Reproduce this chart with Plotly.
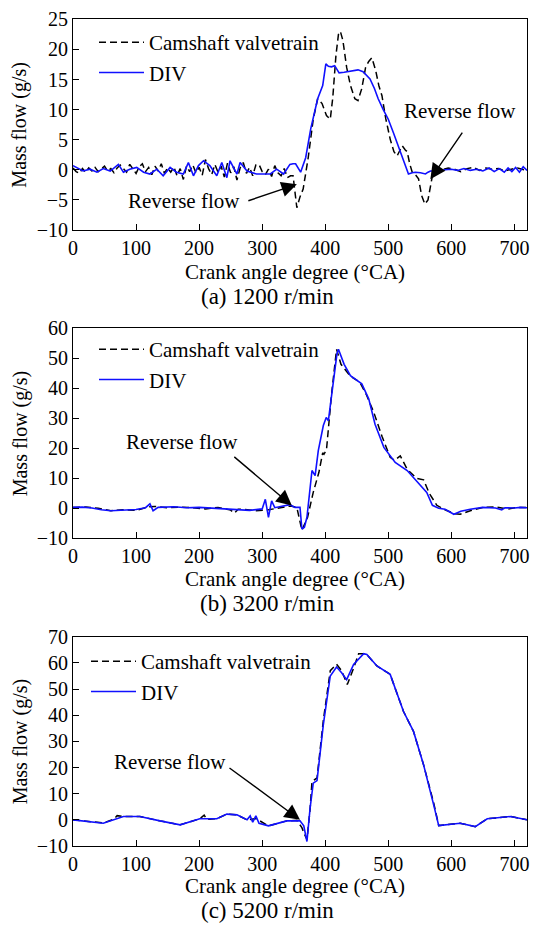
import plotly.graph_objects as go

# ---------------- data ----------------
# Panel (a) 1200 r/min
cam_a_x = list(range(0, 345, 5)) + [345, 349, 355, 360, 365, 373, 381, 388, 395, 402, 408, 412, 417, 421, 424, 428, 434, 440, 447, 452, 458, 464, 469, 474, 480, 485, 490, 496, 503, 509, 514, 518, 522, 527, 530, 534, 538, 543, 548, 553, 558, 563, 567, 571, 576, 585, 595, 605, 615, 625, 635, 645, 655, 665, 675, 685, 695, 705, 715, 720]
cam_a_y = [0.3, -0.3, -0.6, 0.2, -0.4, 0.3, -0.2, 0.4, -0.3, 0.1, 0.6, -0.2, 0.2, -0.5, 0.3, 0.8, 0.2, -0.4, 0.9, 0.1,
           -0.6, 0.5, 1.0, -0.3, 0.4, -0.8, 0.6, -0.2, 1.0, -0.6, 0.3, -0.4, 0.5, -1.0, 0.2, -1.6, 0.6, -0.3, 0.8, -0.5,
           0.4, -0.9, 1.7, 0.2, -0.8, 0.9, -0.4, 0.6, -1.2, 1.1, -0.5, 0.5, -1.7, 0.3, 1.2, -0.6, 0.4, -1.0, 0.8, 0.9,
           -0.3, -0.8, 0.1, -1.1, 0.7, -0.5, -1.0, 0.2, -1.3,
           -1.0, -1.0, -6.3, -4.5, -3.2, 2.0, 8.4, 11.8, 11.0, 9.0, 8.4, 12.0, 19.0, 22.5, 23.0, 21.5, 17.0, 14.0, 11.8, 11.5,
           13.5, 17.0, 18.0, 18.6, 16.5, 14.0, 12.3, 8.5, 5.1, 3.0, 2.3, 3.3, 4.0, 3.3, 3.0, 1.0, -0.4, -0.8, -1.5, -4.3,
           -5.7, -5.0, -2.5, -0.4, 0.2, 0.0, 0.3, 0.1, -0.3, 0.2, 0.4, -0.1, 0.3, 0.1, 0.2, -0.2, 0.1, 0.3, 0.0, 0.1]
div_a_x = [0, 6, 16, 27, 38, 48, 59, 72, 80, 90, 101, 112, 122, 133, 143, 154, 164, 175, 183, 191, 199, 207, 217, 228, 236, 244, 249, 260, 265, 276, 291, 313, 323, 334, 344, 349, 353, 361, 369, 377, 388, 396, 401, 405, 410, 415, 422, 430, 438, 445, 452, 460, 465, 471, 478, 484, 492, 500, 508, 516, 524, 532, 538, 543, 551, 559, 563, 567, 575, 580, 590, 600, 610, 620, 630, 640, 650, 660, 668, 676, 684, 690, 696, 702, 708, 714, 720]
div_a_y = [0.7, 0.4, -0.2, 0.1, -0.4, 0.2, -0.2, 0.9, -0.4, 0.1, 0.4, -0.4, -0.7, 0.1, -1.0, 0.4, -0.4, -0.7, 1.2, -1.0,
           0.7, 1.5, 0.7, -1.0, 1.2, -1.3, 1.5, -0.7, 1.2, -0.2, -0.7, -0.7, 0.1, -0.7, 0.9, 1.0, 1.0, -0.4, 2.0, 6.8,
           11.8, 14.0, 17.6, 17.2, 17.1, 17.3, 16.1, 16.2, 16.3, 16.5, 16.6, 16.3, 15.8, 15.1, 13.5, 11.8, 10.0, 8.4, 6.2, 4.0,
           1.8, -0.7, -0.5, -0.4, -0.5, -0.7, -0.4, -0.2, -0.2, -0.2, 0.0, 0.1, -0.1, 0.2, -0.1, 0.1, -0.2, 0.3, -0.3, 0.2,
           -0.4, 0.3, -0.3, 0.4, -0.4, 0.5, -0.1]

# Panel (b) 3200 r/min
cam_b_x = [0, 20, 40, 60, 80, 100, 120, 130, 150, 170, 190, 210, 230, 250, 256, 262, 270, 290, 310, 330, 345, 355, 363, 372, 381, 390, 396, 398, 402, 410, 418, 425, 440, 455, 465, 477, 490, 503, 510, 519, 530, 545, 556, 565, 577, 590, 605, 614, 630, 650, 670, 690, 700, 720]
cam_b_y = [0.3, 0.4, 0.0, -0.8, -0.5, -0.7, 0.5, 0.6, 0.2, 0.4, 0.2, -0.2, 0.3, -0.6, -1.6, -0.3, -0.3, -0.8, -0.5, 0.2,
           0.8, 0.3, -7.3, -3.0, 5.3, 12.0, 18.5, 18.0, 19.5, 38.0, 53.0, 48.0, 44.0, 42.0, 38.0, 32.0, 24.0, 17.0, 16.0, 17.5,
           13.0, 10.0, 9.5, 5.0, 1.0, -0.5, -1.8, -2.0, -0.8, 0.3, 0.5, -0.3, 0.2, 0.3]
div_b_x = [0, 15, 30, 45, 60, 80, 100, 115, 122, 127, 135, 160, 180, 200, 220, 240, 260, 280, 300, 305, 310, 315, 320, 332, 344, 352, 360, 363, 367, 371, 379, 384, 389, 397, 401.6, 405, 410.6, 418.6, 421, 430, 440, 458, 469, 479, 493, 511, 530, 550, 561, 570, 580, 590, 604, 615, 630, 650, 660, 670, 680, 685, 700, 710, 720]
div_b_y = [0.3, 0.4, 0.1, -0.5, -0.8, -0.7, -0.4, 0.2, 1.5, -0.8, 0.3, 0.5, 0.2, 0.3, 0.0, -0.3, -0.6, -0.7, -0.2, 3.0,
           -3.0, 2.5, 0.2, 0.8, 1.2, 0.3, 0.3, -6.9, -6.3, -3.0, 12.6, 10.9, 19.2, 27.6, 30.3, 29.2, 39.2, 51.5, 53.0, 48.0,
           44.2, 41.5, 36.5, 28.0, 20.3, 15.3, 12.6, 8.0, 5.3, 1.0, 0.0, -0.3, -2.0, -1.0, -0.3, 0.3, 0.3, 0.1, -0.5, 0.2,
           0.1, 0.3, 0.2]

# Panel (c) 5200 r/min
cam_c_x = [0, 20, 48, 65, 70, 80, 106, 138, 170, 201, 208, 212, 228, 244, 260, 276, 290, 310, 339, 355, 363, 368, 371, 376, 379, 387, 397, 408, 418, 426, 435, 445, 453, 461, 466, 482, 503, 524, 540, 556, 572, 580, 614, 638, 657, 694, 720]
cam_c_y = [0.0, -0.5, -1.2, 0.3, 1.6, 1.3, 1.3, -0.4, -1.9, 0.4, 1.8, 0.2, 0.4, 2.2, 1.9, 0.0, 0.5, -2.3, -0.4, -0.2,
           -3.0, -6.0, -7.5, 4.0, 14.7, 16.0, 38.0, 57.0, 59.5, 57.0, 51.7, 58.0, 63.5, 63.5, 63.2, 58.8, 55.6, 41.5, 33.8, 21.0,
           6.5, -2.2, -1.3, -2.6, 0.4, 1.3, 0.0]
div_c_x = [0, 48, 80, 106, 138, 170, 201, 228, 244, 260, 276, 281, 285, 290, 295, 310, 339, 360, 366, 371, 376, 381, 387, 397, 408, 418, 426, 434, 445, 461, 466, 482, 503, 524, 540, 556, 572, 580, 614, 638, 657, 694, 720]
div_c_y = [0.0, -1.3, 1.3, 1.3, -0.4, -1.9, 0.4, 0.4, 2.2, 1.9, 0.0, 1.5, -0.9, 1.5, -1.3, -2.3, -0.4, -0.4, -2.3, -8.3,
           4.5, 14.0, 15.0, 36.4, 55.0, 58.4, 56.2, 53.6, 59.4, 63.5, 63.2, 58.8, 55.6, 41.5, 33.8, 21.0, 5.7, -2.2, -1.3, -2.6,
           0.4, 1.3, 0.0]

x_ticks = [0, 100, 200, 300, 400, 500, 600, 700]
y_ranges = [[-10, 25], [-10, 60], [-10, 70]]
y_dticks = [5, 10, 10]
captions = ["(a) 1200 r/min", "(b) 3200 r/min", "(c) 5200 r/min"]
x_title = "Crank angle degree (°CA)"
y_title = "Mass flow (g/s)"
leg_names = ["Camshaft valvetrain", "DIV"]

# ---------------- figure ----------------
W, H = 533, 929
FONT = "'Liberation Serif', 'Times New Roman', serif"
fig = go.Figure()

panels = [(cam_a_x, cam_a_y, div_a_x, div_a_y),
          (cam_b_x, cam_b_y, div_b_x, div_b_y),
          (cam_c_x, cam_c_y, div_c_x, div_c_y)]
frames = [(19.3, 230.0), (328.3, 538.3), (636.7, 846.0)]
x_left, x_right = 73.0, 527.0
leg_pos = [(94, 22), (94, 329), (86, 641)]

for i, (cx, cy, dx, dy) in enumerate(panels):
    sfx = "" if i == 0 else str(i + 1)
    lg = "legend" if i == 0 else "legend" + str(i + 1)
    fig.add_trace(go.Scatter(x=cx, y=cy, mode="lines", name=leg_names[0],
                             line=dict(color="black", width=1.5, dash="7px,4px"),
                             xaxis="x" + sfx, yaxis="y" + sfx, legend=lg))
    fig.add_trace(go.Scatter(x=dx, y=dy, mode="lines", name=leg_names[1],
                             line=dict(color="#1010ff", width=1.6),
                             xaxis="x" + sfx, yaxis="y" + sfx, legend=lg))

layout = dict(width=W, height=H, margin=dict(l=0, r=0, t=0, b=0, autoexpand=False),
              paper_bgcolor="white", plot_bgcolor="white",
              font=dict(family=FONT, size=20, color="black"),
              showlegend=True)

axis_common = dict(showline=True, linecolor="black", linewidth=1, mirror=True,
                   showgrid=False, zeroline=False, ticks="inside", ticklen=6,
                   tickcolor="black", tickwidth=1, automargin=False,
                   tickfont=dict(family=FONT, size=20))

for i in range(3):
    sfx = "" if i == 0 else str(i + 1)
    top, bot = frames[i]
    layout["xaxis" + sfx] = dict(axis_common, range=[0, 720], tickvals=x_ticks,
                                 domain=[x_left / W, x_right / W],
                                 anchor="y" + sfx)
    layout["yaxis" + sfx] = dict(axis_common, range=y_ranges[i], dtick=y_dticks[i],
                                 tick0=-10, domain=[1 - bot / H, 1 - top / H],
                                 anchor="x" + sfx)
    lx, ly = leg_pos[i]
    lg = "legend" if i == 0 else "legend" + str(i + 1)
    layout[lg] = dict(x=lx / W, y=1 - ly / H, xanchor="left", yanchor="top",
                      bgcolor="rgba(0,0,0,0)", borderwidth=0,
                      font=dict(family=FONT, size=21), itemwidth=45,
                      tracegroupgap=0)

annotations = []
x_title_y = [271.7, 578.5, 885.5]
cap_y = [296.5, 603.5, 910.5]
for i in range(3):
    top, bot = frames[i]
    annotations.append(dict(text=x_title, xref="paper", yref="paper", x=295 / W, y=1 - x_title_y[i] / H,
                            showarrow=False, xanchor="center", yanchor="middle", font=dict(size=21)))
    annotations.append(dict(text=captions[i], xref="paper", yref="paper", x=267 / W, y=1 - cap_y[i] / H,
                            showarrow=False, xanchor="center", yanchor="middle", font=dict(size=23)))
    annotations.append(dict(text=y_title, xref="paper", yref="paper", x=20 / W, y=1 - (top + bot) / 2 / H,
                            showarrow=False, xanchor="center", yanchor="middle", textangle=-90,
                            font=dict(size=20)))

rf_labels = [("x", "y", 176, -5.2), ("x", "y", 614, 9.8), ("x2", "y2", 172.5, 22), ("x3", "y3", 154, 22.3)]
for xr, yr, tx, ty in rf_labels:
    annotations.append(dict(text="Reverse flow", xref=xr, yref=yr, x=tx, y=ty, showarrow=False,
                            xanchor="center", yanchor="middle", font=dict(size=21)))
arrows = [("x", "y", 355, -2.4, -50, 17), ("x", "y", 566.7, -1.55, 33, -48),
          ("x2", "y2", 347, 0.9, -59, -50), ("x3", "y3", 360, 0.0, -72, -53)]
for xr, yr, hx, hy, ox, oy in arrows:
    annotations.append(dict(text="", xref=xr, yref=yr, x=hx, y=hy, ax=ox, ay=oy,
                            showarrow=True, arrowhead=2, arrowsize=2.2, arrowwidth=1.4,
                            arrowcolor="black", standoff=0, startstandoff=0))

layout["annotations"] = annotations
fig.update_layout(**layout)
fig.write_html("out.html")
